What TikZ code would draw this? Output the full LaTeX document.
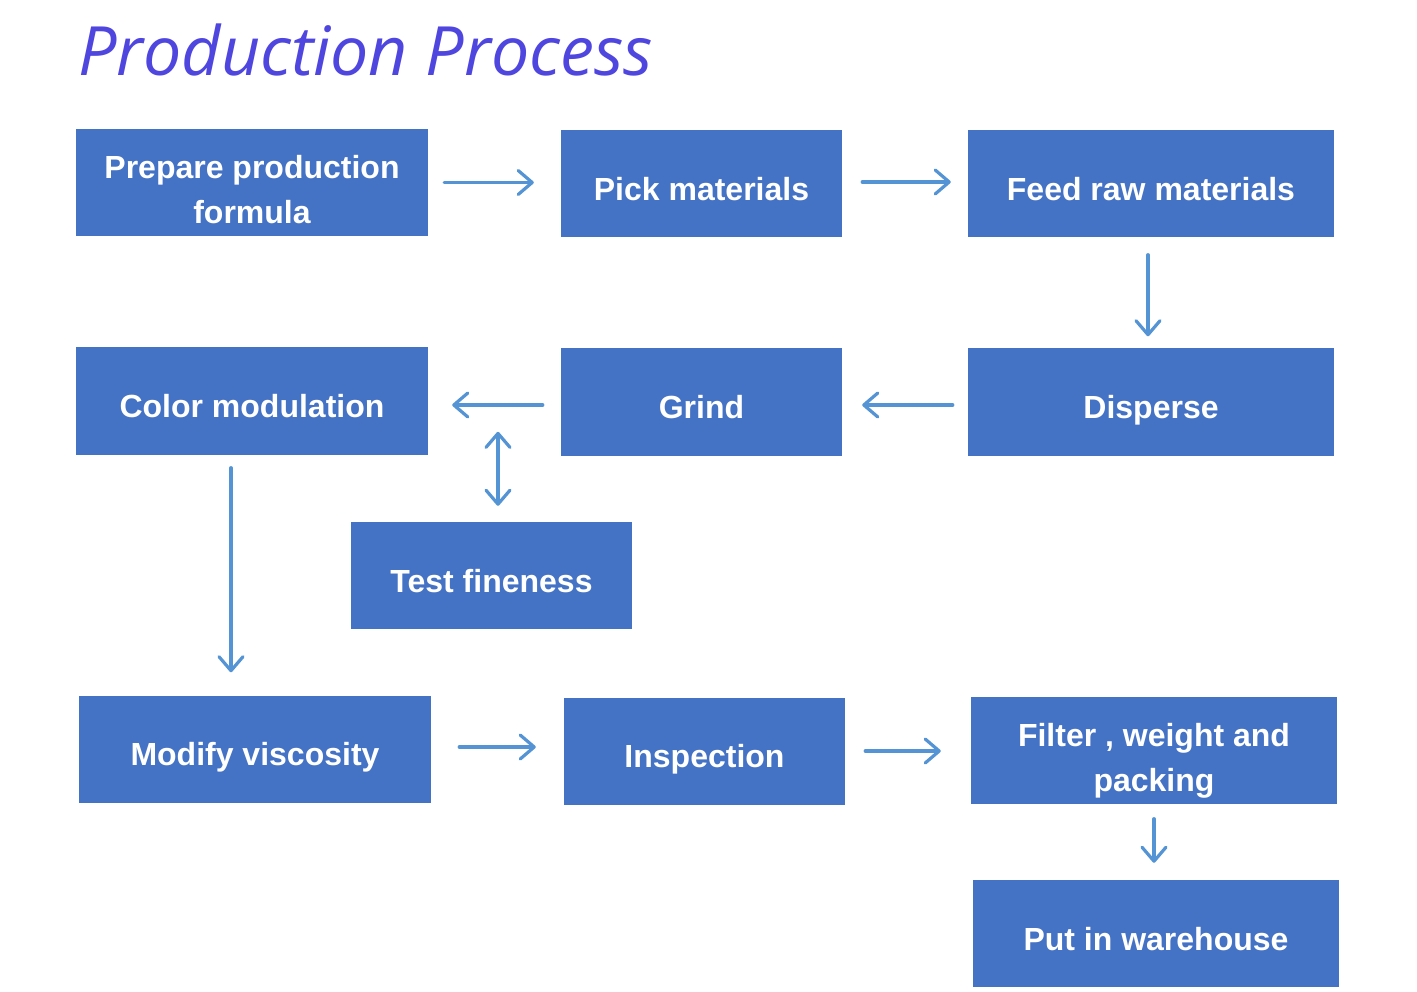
\documentclass[tikz,border=0pt]{standalone}
\usepackage{fontspec}
\setmainfont{Liberation Sans}
\newfontfamily\titlefont{Open Sans}
\usetikzlibrary{arrows.meta,positioning}
\definecolor{BoxBlue}  {RGB}{ 68,114,196}
\definecolor{ArrowBlue}{RGB}{ 84,148,212}
\definecolor{TitleBlue}{RGB}{ 78, 70,222}
\tikzset{
  %% process boxes
  pbox/.style={rectangle,fill=BoxBlue,draw=none,text=white,
               minimum height=107pt,inner sep=0pt,
               text height=33pt,text depth=0pt,
               font=\fontsize{32}{45}\selectfont\bfseries,align=center},
  ptwo/.style={text height=82pt},
  pwide/.style={pbox,minimum width=352pt},
  pmid/.style={pbox,minimum width=281pt},
  plong/.style={pbox,minimum width=366pt},
  %% arrows
  parr/.style={-{Straight Barb[length=14pt,width=24pt,line width=3.2pt,round]},
               line width=3.2pt,line cap=round,color=ArrowBlue},
  pdarr/.style={{Straight Barb[length=14pt,width=24pt,line width=3.2pt,round]}-{Straight Barb[length=14pt,width=24pt,line width=3.2pt,round]},
                line width=3.2pt,line cap=round,color=ArrowBlue},
}
\begin{document}
\begin{tikzpicture}[x=1pt,y=-1pt]
  \useasboundingbox (0,0) rectangle (1417,992);
  \node[anchor=base west,text=TitleBlue,inner sep=0pt,
        font=\titlefont\itshape\fontsize{68}{74}\selectfont] (title) at (78,76) {Production Process};

  % row 1
  \node[pwide,ptwo] (prep) at (252,182.5) {Prepare production\\formula};
  \node[pmid]  (pick) at (701.5,184) {Pick materials};
  \node[plong] (feed) at (1151,184) {Feed raw materials};
  % row 2
  \node[pwide] (color) at (252,401) {Color modulation};
  \node[pmid]  (grind) at (701.5,402) {Grind};
  \node[plong] (disp)  at (1151,402) {Disperse};
  \node[pmid]  (test)  at (491.5,575.5) {Test fineness};
  % row 3
  \node[pwide] (visc)  at (255,749) {Modify viscosity};
  \node[pmid]  (insp)  at (704.5,751) {Inspection};
  \node[plong,ptwo] (filt) at (1154,750) {Filter , weight and\\packing};
  \node[plong] (ware)  at (1156,933.5) {Put in warehouse};

  \draw[parr,shorten <=16pt,shorten >=27pt] (prep.east) -- (prep.east -| pick.west);
  \draw[parr,shorten <=20pt,shorten >=17pt] ([yshift=2pt]pick.east) -- ([yshift=2pt]feed.west);
  \draw[parr,shorten <=17pt,shorten >=12pt] ([xshift=-3pt]feed.south) -- ([xshift=-3pt]feed.south |- disp.north);
  \draw[parr,shorten <=15pt,shorten >=20pt] ([yshift=-3pt]disp.west) -- ([yshift=-3pt]grind.east);
  \draw[parr,shorten <=18pt,shorten >=24pt] ([yshift=-3pt]grind.west) -- ([yshift=-3pt]color.east |- grind.west);
  \draw[pdarr,shorten <=16pt] ([xshift=6.5pt]test.north) -- ([xshift=6.5pt,yshift=90pt]test.north);
  \draw[parr,shorten <=13pt,shorten >=23pt] ([xshift=-21pt]color.south) -- ([xshift=-24pt]visc.north);
  \draw[parr,shorten <=28pt,shorten >=28pt] ([yshift=2pt]visc.east) -- ([yshift=2pt]visc.east -| insp.west);
  \draw[parr,shorten <=20pt,shorten >=30pt] (insp.east) -- (insp.east -| filt.west);
  \draw[parr,shorten <=15pt,shorten >=17pt] (filt.south) -- (filt.south |- ware.north);
\end{tikzpicture}
\end{document}
